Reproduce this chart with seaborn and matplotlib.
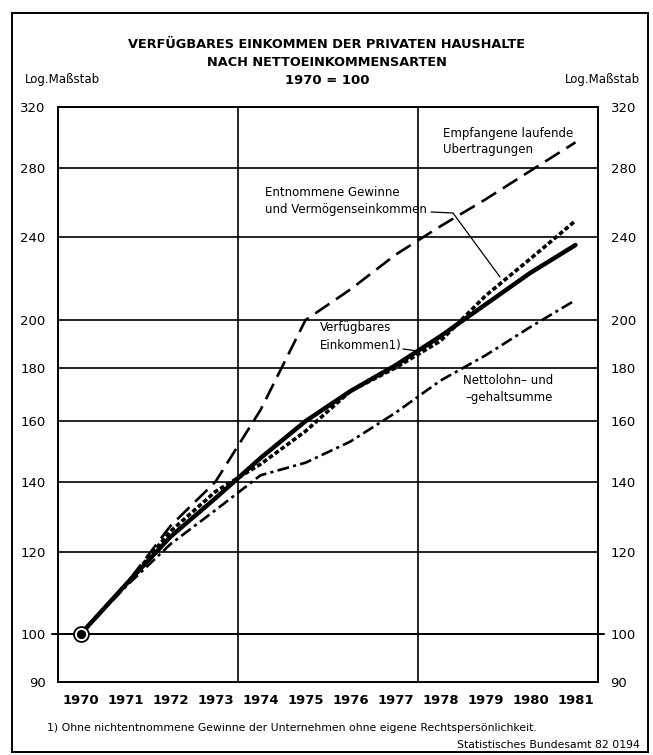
import numpy as np
import pandas as pd
import matplotlib
matplotlib.use("Agg")
import matplotlib.pyplot as plt
from matplotlib.patches import Rectangle
import seaborn as sns

# --- data (1970 = 100) ---
years = [1970, 1971, 1972, 1973, 1974, 1975, 1976, 1977, 1978, 1979, 1980, 1981]
verfuegbar = [100, 111.5, 124, 135, 147.5, 160, 171, 181, 193, 207, 222, 236]
entnommen = [100, 111.5, 125.5, 137, 145.5, 156.5, 171, 180, 191, 211, 229, 249]
nettolohn = [100, 111, 122, 131.5, 142, 146, 153, 163, 175, 185, 197, 209]
uebertragung = [100, 111.5, 127, 140, 164, 200, 214, 231, 246, 261, 278, 296]
y_ticks = [90, 100, 120, 140, 160, 180, 200, 240, 280, 320]
grid_vals = [100, 120, 140, 160, 180, 200, 240, 280, 320]
year_breaks = [1973.5, 1977.5]

W, H = 653, 755


def fx(px):
    return px / W


def fy(py):
    return 1 - py / H


sns.set_style("white")
plt.rcParams['font.family'] = ['Liberation Sans Narrow', 'DejaVu Sans']
plt.rcParams.update({'text.color': 'black', 'axes.labelcolor': 'black',
                     'xtick.color': 'black', 'ytick.color': 'black'})

fig = plt.figure(figsize=(W / 100, H / 100), dpi=100)
ax = fig.add_axes([fx(58), fy(682), (598 - 58) / W, (682 - 107) / H])

df = pd.DataFrame({'Jahr': years, 'verf': verfuegbar, 'entn': entnommen,
                   'netto': nettolohn, 'uebt': uebertragung})

# grid
for g in grid_vals:
    ax.axhline(g, color='black', lw=1.2, zorder=1)
for b in year_breaks:
    ax.axvline(b, color='black', lw=1.2, zorder=1)
ax.plot([-0.012, 1.012], [(np.log10(100) - np.log10(90)) / (np.log10(320) - np.log10(90))] * 2,
        transform=ax.transAxes, color='black', lw=1.4, clip_on=False, zorder=1)

# series
sns.lineplot(data=df, x='Jahr', y='uebt', ax=ax, color='black', lw=1.9,
             linestyle=(0, (6.5, 3)), zorder=3)
sns.lineplot(data=df, x='Jahr', y='netto', ax=ax, color='black', lw=1.9,
             linestyle=(0, (4.5, 1.6, 1.2, 1.6)), zorder=3)
sns.lineplot(data=df, x='Jahr', y='verf', ax=ax, color='black', lw=3.2,
             solid_capstyle='round', zorder=4)
sns.lineplot(data=df, x='Jahr', y='entn', ax=ax, color='black', lw=2.6,
             linestyle=(0, (1.3, 0.7)), zorder=5)

# base point 1970
ax.scatter([years[0]], [verfuegbar[0]], s=115, facecolor='white', edgecolor='black',
           linewidth=1.3, zorder=6)
ax.scatter([years[0]], [verfuegbar[0]], s=32, color='black', zorder=7)

ax.set_yscale('log')
ax.set_ylim(90, 320)
ax.set_xlim(1969.5, 1981.5)
ax.set_xlabel('')
ax.set_ylabel('')

ax.set_yticks(y_ticks)
ax.set_yticklabels([str(v) for v in y_ticks])
ax.yaxis.set_minor_locator(matplotlib.ticker.NullLocator())
ax.tick_params(axis='y', which='both', length=0, labelsize=9.5, pad=9,
               labelright=True, labelleft=True)

ax.set_xticks([y - 0.5 for y in years] + [years[-1] + 0.5])
ax.set_xticklabels([])
ax.set_xticks(years, minor=True)
ax.set_xticklabels([str(y) for y in years], minor=True, fontweight='bold')
ax.tick_params(axis='x', which='major', direction='out', length=5, width=1.3, color='black')
ax.tick_params(axis='x', which='minor', length=0, labelsize=9.5, pad=9)

for s in ax.spines.values():
    s.set_visible(True)
    s.set_color('black')
    s.set_linewidth(1.4)

# titles
fig.text(fx(327), fy(45), 'VERFÜGBARES EINKOMMEN DER PRIVATEN HAUSHALTE', ha='center',
         va='center', fontsize=9.3, fontweight='bold')
fig.text(fx(327), fy(62), 'NACH NETTOEINKOMMENSARTEN', ha='center', va='center',
         fontsize=9.3, fontweight='bold')
fig.text(fx(327), fy(80), '1970 = 100', ha='center', va='center', fontsize=9.5, fontweight='bold')
fig.text(fx(25), fy(79), 'Log.Maßstab', ha='left', va='center', fontsize=8.5)
fig.text(fx(640), fy(79), 'Log.Maßstab', ha='right', va='center', fontsize=8.5)

# series labels
fig.text(fx(443), fy(133), 'Empfangene laufende', ha='left', va='center', fontsize=8.5)
fig.text(fx(443), fy(149), 'Ubertragungen', ha='left', va='center', fontsize=8.5)
fig.text(fx(400), fy(193), 'Entnommene Gewinne', ha='right', va='center', fontsize=8.5)
fig.text(fx(427), fy(210), 'und Vermögenseinkommen', ha='right', va='center', fontsize=8.5)
fig.text(fx(320), fy(328), 'Verfügbares', ha='left', va='center', fontsize=8.5)
fig.text(fx(320), fy(345), 'Einkommen1)', ha='left', va='center', fontsize=8.5)
fig.text(fx(553), fy(380), 'Nettolohn– und', ha='right', va='center', fontsize=8.5)
fig.text(fx(553), fy(397), '–gehaltsumme', ha='right', va='center', fontsize=8.5)

# leader lines
fig.add_artist(plt.Line2D([fx(431), fx(453), fx(500)], [fy(212), fy(213), fy(277)],
                          color='black', lw=0.9))
fig.add_artist(plt.Line2D([fx(403), fx(418)], [fy(349), fy(351)], color='black', lw=0.9))

# footnote and source
fig.text(fx(47), fy(728), '1) Ohne nichtentnommene Gewinne der Unternehmen ohne eigene '
         'Rechtspersönlichkeit.', ha='left', va='center', fontsize=7.8)
fig.text(fx(640), fy(745), 'Statistisches Bundesamt 82 0194', ha='right', va='center', fontsize=7.8)

# frame around the whole chart
fig.add_artist(Rectangle((fx(12), fy(752)), fx(648) - fx(12), fy(13) - fy(752),
                         transform=fig.transFigure, fill=False, edgecolor='black', lw=1.4))

fig.savefig('out.png', dpi=100)
